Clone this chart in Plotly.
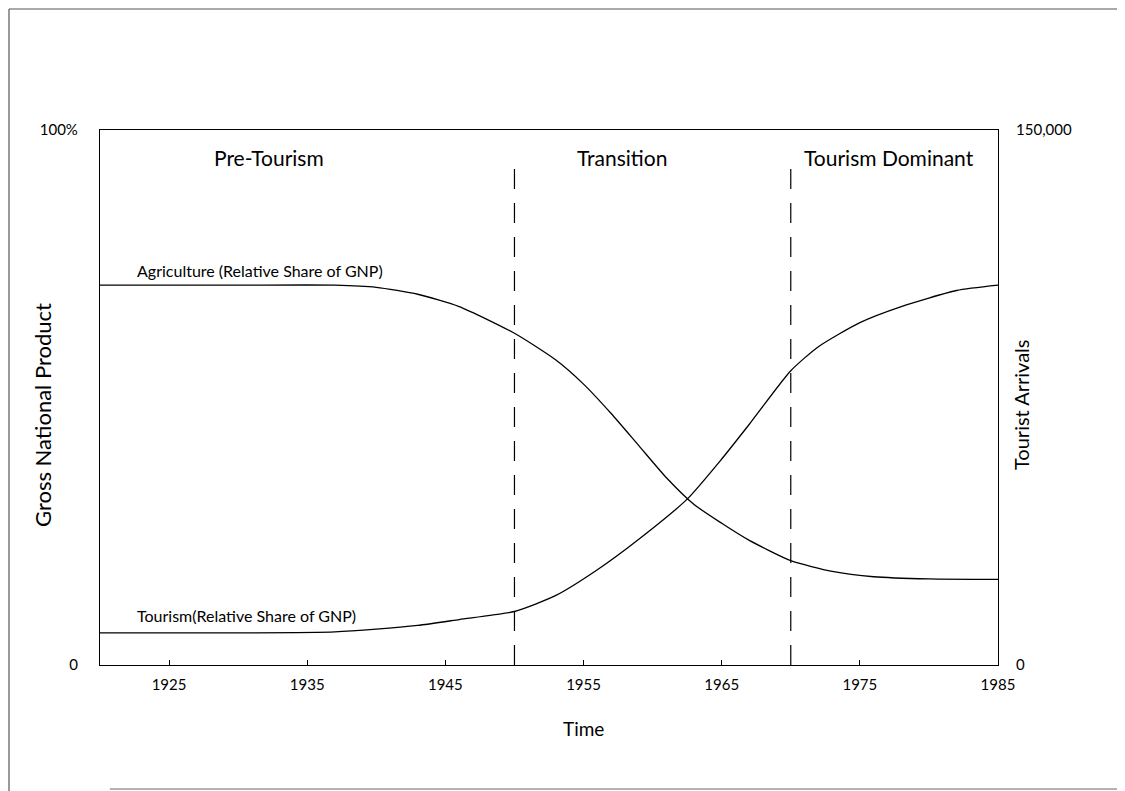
import plotly.graph_objects as go

# Data
years_agri = [1920, 1930, 1937, 1940, 1943, 1946, 1950, 1953, 1955, 1957, 1959, 1961, 1963, 1965, 1967, 1970, 1973, 1976, 1980, 1985]
agri_share = [71, 71, 71, 70.6, 69.3, 67, 62, 57, 52.5, 47, 41, 35, 30, 26.5, 23.3, 19.5, 17.5, 16.5, 16.1, 16]

years_tour = [1920, 1930, 1937, 1940, 1943, 1946, 1950, 1953, 1956, 1959, 1962.5, 1965, 1967, 1970, 1972, 1975, 1978, 1982, 1985]
tour_share = [6, 6, 6.2, 6.7, 7.4, 8.5, 10, 13, 17.8, 23.5, 31, 38.5, 45, 55, 59.5, 64, 67, 70, 71]

phase_bounds = [1950, 1970]
phase_labels = ["Pre-Tourism", "Transition", "Tourism Dominant"]
phase_label_x = [1932.2, 1957.8, 1977.1]

x_ticks = [1925, 1935, 1945, 1955, 1965, 1975, 1985]
left_tickvals = [0, 100]
left_ticktext = ["0", "100%"]
right_tickvals = [0, 150000]
right_ticktext = ["0", "150,000"]

FONT = "Lato"
W, H = 1125, 791
OFF = 8  # page body margin in the browser
L, T = 100 - OFF, 130 - OFF
PW, PH = 898, 535
R, B = W - L - PW, H - T - PH


def px(x):
    return (x - 100) / PW


def py(y):
    return (665 - y) / PH


fig = go.Figure()

line_style = dict(color="black", width=1.3, shape="spline", smoothing=0.6)
fig.add_trace(go.Scatter(x=years_agri, y=agri_share, mode="lines", line=line_style, showlegend=False))
fig.add_trace(go.Scatter(x=years_tour, y=tour_share, mode="lines", line=line_style, showlegend=False))
# invisible trace to activate the right axis
fig.add_trace(go.Scatter(x=[1920], y=[0], yaxis="y2", mode="markers", marker=dict(opacity=0),
                         showlegend=False, hoverinfo="skip"))

for xb in phase_bounds:
    fig.add_shape(type="line", x0=xb, x1=xb, y0=0, y1=93.3, xref="x", yref="y",
                  line=dict(color="black", width=1.2, dash="20px,14px"))

for lab, xl in zip(phase_labels, phase_label_x):
    fig.add_annotation(x=xl, y=94.8, xref="x", yref="y", text=lab, showarrow=False,
                       font=dict(family=FONT, size=21, color="black"))

fig.add_annotation(x=1922.5, y=73.8, xref="x", yref="y", text="Agriculture (Relative Share of GNP)",
                   showarrow=False, xanchor="left", font=dict(family=FONT, size=16, color="black"))
fig.add_annotation(x=1922.5, y=9.3, xref="x", yref="y", text="Tourism(Relative Share of GNP)",
                   showarrow=False, xanchor="left", font=dict(family=FONT, size=16, color="black"))

# axis titles
fig.add_annotation(x=px(42), y=py(415), xref="paper", yref="paper", text="Gross National Product",
                   xanchor="center", yanchor="middle", textangle=-90, showarrow=False,
                   font=dict(family=FONT, size=22, color="black"))
fig.add_annotation(x=px(1021), y=py(405), xref="paper", yref="paper", text="Tourist Arrivals",
                   xanchor="center", yanchor="middle", textangle=-90, showarrow=False,
                   font=dict(family=FONT, size=20, color="black"))
fig.add_annotation(x=px(583), y=py(728), xref="paper", yref="paper", text="Time",
                   xanchor="center", yanchor="middle", showarrow=False,
                   font=dict(family=FONT, size=19, color="black"))

# page border lines (scanned page edges)
fig.add_shape(type="line", xref="paper", yref="paper", x0=px(9), x1=px(1125), y0=py(9), y1=py(9),
              line=dict(color="#555", width=1.2))
fig.add_shape(type="line", xref="paper", yref="paper", x0=px(9), x1=px(9), y0=py(791), y1=py(9),
              line=dict(color="#555", width=1.2))
fig.add_shape(type="line", xref="paper", yref="paper", x0=px(110), x1=px(1125), y0=py(789), y1=py(789),
              line=dict(color="#666", width=1.2))

fig.update_layout(
    width=W, height=H,
    margin=dict(l=L, r=R, t=T, b=B, autoexpand=False),
    paper_bgcolor="white", plot_bgcolor="white",
    font=dict(family=FONT, color="black"),
    xaxis=dict(range=[1920, 1985], tickvals=x_ticks, ticks="inside", ticklen=5, tickcolor="black",
               showline=True, linecolor="black", linewidth=1.2, mirror=True, showgrid=False, zeroline=False,
               tickfont=dict(family=FONT, size=15), ticklabelstandoff=6, automargin=False),
    yaxis=dict(range=[0, 100], tickvals=left_tickvals, ticktext=left_ticktext, ticks="",
               showline=True, linecolor="black", linewidth=1.2, showgrid=False, zeroline=False,
               tickfont=dict(family=FONT, size=15), ticklabelstandoff=18, automargin=False),
    yaxis2=dict(range=[0, 150000], overlaying="y", side="right", tickvals=right_tickvals,
                ticktext=right_ticktext, ticks="", showline=True, linecolor="black", linewidth=1.2,
                showgrid=False, zeroline=False, tickfont=dict(family=FONT, size=15),
                ticklabelstandoff=14, automargin=False),
)

fig.write_html("out.html")
